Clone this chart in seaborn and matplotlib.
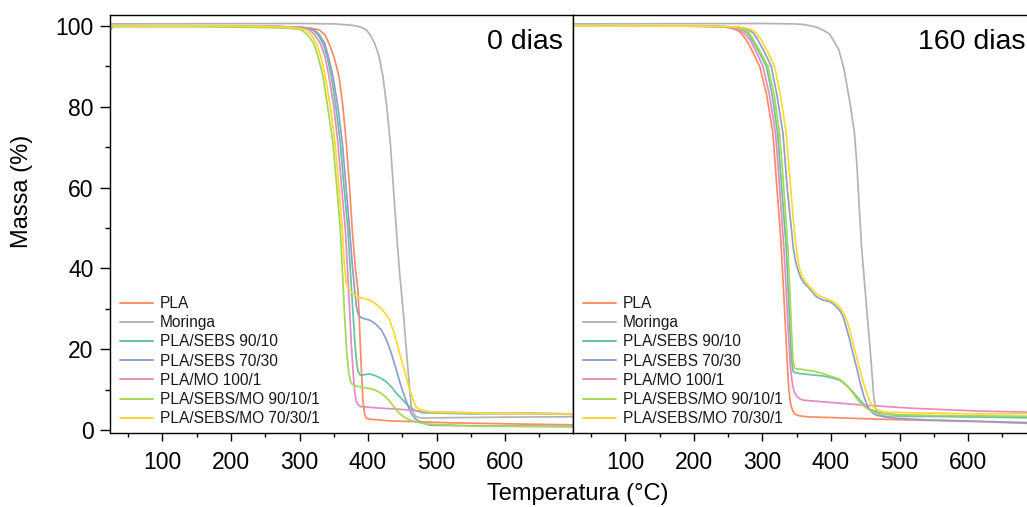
import matplotlib
matplotlib.use("Agg")
import matplotlib.pyplot as plt
from matplotlib.ticker import MultipleLocator
import pandas as pd
import seaborn as sns

# Sample names and colours (Set2)
amostras = ["PLA", "Moringa", "PLA/SEBS 90/10", "PLA/SEBS 70/30",
            "PLA/MO 100/1", "PLA/SEBS/MO 90/10/1", "PLA/SEBS/MO 70/30/1"]
cores = ["#fc8d62", "#b3b3b3", "#66c2a5", "#8da0cb",
         "#e78ac3", "#a6d854", "#ffd92f"]

xticks = [100, 200, 300, 400, 500, 600]
yticks = [0, 20, 40, 60, 80, 100]
paineis = ["0 dias", "160 dias"]

# ---- TGA curves, 0 dias: temperature (°C) and residual mass (%) ----
pla_0_t = [25, 150, 250, 300, 318, 329, 337, 343, 350, 357.6, 363, 368.3, 373, 377, 381.5, 385.3,
           388.5, 390.5, 392.5, 395, 398, 402, 430, 520, 620, 700]
pla_0_m = [100, 100, 99.9, 99.7, 99.4, 99.0, 97.8, 95.7, 92.5, 87.5, 80.5, 71.0, 60.0, 49.5, 40, 34.7,
           22, 14, 7.5, 3.8, 2.9, 2.7, 2.3, 1.8, 1.5, 1.3]

mor_0_t = [25, 300, 350, 375, 385, 391, 397.5, 403, 409.6, 416, 421.7, 427, 432.5, 437, 441.3, 446,
           452, 458, 463, 467, 470, 475, 480, 600, 700]
mor_0_m = [100.5, 100.6, 100.5, 100.2, 99.9, 99.6, 99.0, 97.8, 95.7, 92.5, 87.5, 80.5, 71.0, 60, 49.5, 39,
           28, 15.5, 5.8, 4.0, 3.3, 3.1, 3.0, 3.2, 3.3]

s9010_0_t = [25, 28, 150, 250, 300, 312, 319.7, 327, 334.3, 340, 346.5, 353, 359.6, 365, 370.7, 374,
             378, 381, 383.5, 385.3, 388, 392, 397, 402.3, 410, 419.3, 427, 434, 442, 451, 457, 463,
             470, 480, 550, 640, 700]
s9010_0_m = [99.2, 100, 100, 99.9, 99.7, 99.3, 99.0, 97.8, 95.7, 92.5, 87.5, 80, 71.0, 60, 49.5, 40,
             29, 21, 16.5, 14.6, 13.7, 13.6, 13.8, 13.9, 13.5, 12.8, 11.9, 10.7, 9.0, 7.4, 6.3, 5.4,
             4.8, 4.3, 4.0, 4.2, 4.0]

s7030_0_t = [25, 150, 250, 302, 314, 322.2, 329, 336.7, 342, 348.8, 356, 362.5, 368, 373.2, 377, 380.5,
             383, 385, 387.5, 390, 396, 402.3, 410, 419.3, 427, 434, 441, 448.5, 456, 463, 469, 475,
             490, 600, 700]
s7030_0_m = [100, 100, 99.9, 99.7, 99.3, 99.0, 97.8, 95.7, 92.5, 87.5, 80, 71.0, 60, 49.5, 41, 34.5,
             30.5, 29.0, 28.2, 27.8, 27.5, 27.2, 26.4, 24.8, 22.3, 19.0, 15.0, 10.7, 7.0, 4.1, 2.8, 2.1,
             1.2, 1.0, 0.9]

mo_0_t = [25, 150, 250, 295, 307, 315, 322, 330.4, 337, 343, 350, 356.1, 361.5, 366.9, 370, 373, 376,
          379, 381, 383, 386, 390, 420, 451, 490, 600, 700]
mo_0_m = [100, 100, 99.9, 99.7, 99.3, 99.0, 97.8, 95.7, 92.5, 87.5, 80, 71.0, 60, 49.5, 40, 30, 20,
          12.5, 9.0, 7.0, 6.2, 5.8, 5.4, 5.1, 4.5, 4.1, 3.9]

smo9010_0_t = [25, 150, 250, 285, 297, 303, 312, 320.7, 327, 334.3, 341, 348.8, 354, 359.6, 363, 366,
               369, 372, 374.5, 377, 383, 395, 402.3, 410, 419.3, 427, 434, 440, 446, 453, 460.6, 470,
               485, 550, 700]
smo9010_0_m = [99.8, 99.8, 99.6, 99.4, 99.2, 99.0, 97.8, 95.7, 92.5, 87.5, 80, 71.0, 61, 49.5, 38, 27.5,
               19, 14, 12, 11.3, 10.9, 10.5, 10.3, 9.9, 9.1, 8.0, 6.6, 5.3, 4.1, 3.2, 2.5, 2.0,
               1.5, 1.0, 0.8]

smo7030_0_t = [25, 150, 250, 290, 302, 310, 317, 324.6, 331, 337.6, 345, 351.8, 357, 362.5, 365.5, 368,
               371, 375.6, 380, 385, 393, 402, 410, 419, 425, 431.5, 439, 446, 453, 459.6, 465, 470,
               476, 482.5, 500, 600, 700]
smo7030_0_m = [100, 100, 99.9, 99.6, 99.3, 99.0, 97.8, 95.7, 92.5, 87.5, 80, 71.0, 61, 49.5, 41, 36.5,
               35.0, 34.2, 33.5, 33.0, 32.6, 32.2, 31.4, 30.1, 28.9, 27.2, 23.5, 19.0, 14.8, 10.7, 7.8, 5.8,
               5.0, 4.7, 4.4, 4.1, 4.0]

# ---- TGA curves, 160 dias ----
pla_160_t = [25, 150, 220, 245, 255, 262, 269, 276.4, 286, 295.9, 306, 315.2, 321, 326, 330, 333,
             336, 338.5, 341, 344, 347, 352, 364, 470, 616, 700]
pla_160_m = [100, 100, 99.9, 99.7, 99.4, 99.0, 98.2, 96.5, 93.5, 90, 83, 73.4, 60, 49, 37, 27,
             17, 10, 6.5, 4.8, 4.0, 3.6, 3.3, 2.7, 2.1, 1.6]

mor_160_t = [25, 300, 345, 358, 368, 378.4, 390, 397.8, 405, 411.4, 418.2, 427, 434.3, 438, 440.6,
             444.5, 452, 458, 462, 464.5, 467.5, 471, 480, 600, 700]
mor_160_m = [100.5, 100.6, 100.5, 100.4, 100.1, 99.7, 98.8, 98.0, 96.0, 94.1, 89.9, 81.7, 73.4, 65, 56.9,
             45.5, 30, 18, 9, 5.5, 4.2, 3.7, 3.4, 3.3, 3.2]

s9010_160_t = [25, 150, 230, 255, 265, 271, 278, 285, 295, 305.6, 314, 322.2, 328, 334.7, 337.5, 340,
               342.5, 344.3, 348, 354, 370, 388, 400, 412.4, 420, 429.5, 438, 446.5, 456, 466, 480,
               495, 600, 700]
s9010_160_m = [100, 100, 99.9, 99.7, 99.4, 99.0, 98.2, 96.5, 93.5, 90, 83, 73.4, 60, 45, 35, 25,
               17.5, 14.6, 14.2, 14.0, 13.7, 13.4, 13.0, 12.4, 11.4, 9.9, 8.2, 6.6, 5.2, 4.5, 4.0,
               3.7, 3.3, 3.0]

s7030_160_t = [25, 150, 235, 262, 273, 280, 287, 293.3, 303, 312.8, 321, 329.9, 336, 342, 345, 348,
               351.7, 356, 361, 366, 372, 378.4, 388, 397.8, 405, 412.4, 418, 422, 427, 432, 438, 444,
               449, 453.7, 460, 466, 480, 495, 544, 700]
s7030_160_m = [100, 100, 99.9, 99.7, 99.4, 99.0, 98.2, 96.5, 93.5, 90, 83, 73.4, 60, 50, 45, 42,
               39.6, 37.6, 36.3, 35.5, 34.3, 33.0, 32.2, 31.8, 31.0, 29.7, 28.0, 25.6, 22.5, 19.0, 15.0, 10.7,
               7.8, 5.8, 4.4, 3.7, 3.2, 2.9, 2.5, 1.8]

mo_160_t = [25, 150, 225, 250, 260, 266, 273, 282, 291, 300.7, 310, 319.1, 325, 331.2, 334.5, 338,
            341, 344, 347, 350, 354, 359, 388, 446.5, 519, 616.5, 700]
mo_160_m = [100, 100, 99.9, 99.7, 99.4, 99.0, 98.2, 96.5, 93.5, 90, 83, 73.4, 60, 45, 35, 23,
            15, 11, 9.2, 8.4, 7.8, 7.4, 7.0, 6.2, 5.4, 4.7, 4.4]

smo9010_160_t = [25, 150, 232, 258, 268, 274, 281, 287, 297, 308, 317, 325, 331, 337.1, 340, 342.5,
                 344.5, 346.8, 352, 359, 375, 388, 400, 410, 418, 425, 433, 441.5, 448, 456, 463, 470.7,
                 500, 550, 700]
smo9010_160_m = [100, 100, 99.9, 99.7, 99.4, 99.0, 98.2, 96.5, 93.5, 90, 83, 73.4, 60, 45, 34, 24,
                 17.5, 15.3, 15.1, 15.0, 14.6, 14.0, 13.3, 12.8, 11.9, 10.7, 8.9, 7.0, 5.9, 5.0, 4.4, 4.1,
                 3.8, 3.6, 3.4]

smo7030_160_t = [25, 150, 240, 267, 278, 285, 291, 298.2, 308, 317.6, 326, 334.7, 341, 345.5, 348.3, 351,
                 354, 358, 363, 368.6, 375, 381, 390, 397.8, 405, 412.4, 419, 424.6, 430, 435.8, 442, 449,
                 456, 461, 466, 475, 485, 550, 616, 700]
smo7030_160_m = [100, 100, 99.9, 99.7, 99.4, 99.0, 98.2, 96.5, 93.5, 90, 83, 73.4, 60, 51, 46.5, 43.0,
                 40.0, 38.0, 36.6, 35.5, 34.3, 33.4, 32.7, 32.2, 31.6, 30.5, 28.7, 26.4, 23.0, 19.0, 15.0, 10.7,
                 7.3, 5.9, 5.2, 4.6, 4.4, 4.2, 4.0, 4.1]

curvas_0 = [(pla_0_t, pla_0_m), (mor_0_t, mor_0_m), (s9010_0_t, s9010_0_m), (s7030_0_t, s7030_0_m),
            (mo_0_t, mo_0_m), (smo9010_0_t, smo9010_0_m), (smo7030_0_t, smo7030_0_m)]
curvas_160 = [(pla_160_t, pla_160_m), (mor_160_t, mor_160_m), (s9010_160_t, s9010_160_m),
              (s7030_160_t, s7030_160_m), (mo_160_t, mo_160_m), (smo9010_160_t, smo9010_160_m),
              (smo7030_160_t, smo7030_160_m)]


def tabela(curvas):
    partes = []
    for nome, (t, m) in zip(amostras, curvas):
        partes.append(pd.DataFrame({"T": t, "massa": m, "amostra": nome}))
    return pd.concat(partes, ignore_index=True)


sns.set_style("ticks")
plt.rcParams["font.family"] = ["Liberation Sans", "DejaVu Sans"]
plt.rcParams["text.color"] = "black"
plt.rcParams["axes.labelcolor"] = "black"
plt.rcParams["xtick.color"] = "black"
plt.rcParams["ytick.color"] = "black"
plt.rcParams["axes.linewidth"] = 1.0

fig = plt.figure(figsize=(10.27, 5.07), dpi=100)
ax1 = fig.add_axes([0.1068, 0.1469, 0.4511, 0.8235])
ax2 = fig.add_axes([0.5576, 0.1469, 0.4511, 0.8235], sharey=ax1)

paleta = dict(zip(amostras, cores))

for ax, curvas, titulo in zip([ax1, ax2], [curvas_0, curvas_160], paineis):
    df = tabela(curvas)
    sns.lineplot(data=df, x="T", y="massa", hue="amostra", hue_order=amostras,
                 palette=paleta, estimator=None, sort=False, linewidth=1.25, ax=ax)
    leg = ax.get_legend()
    handles = leg.legend_handles
    labels = [t.get_text() for t in leg.get_texts()]
    for h in handles:
        h.set_linewidth(1.4)
    ax.legend(handles, labels, loc="lower left", bbox_to_anchor=(0.022, 0.015),
              frameon=False, fontsize=11.2, handlelength=2.15, handletextpad=0.4,
              labelspacing=0.27, borderpad=0, borderaxespad=0, labelcolor="#1a1a1a")

    ax.set_xlim(23, 699)
    ax.set_ylim(-0.6, 102.7)
    ax.set_xticks(xticks)
    ax.xaxis.set_minor_locator(MultipleLocator(50))
    ax.set_xlabel("")
    ax.set_ylabel("")
    for s in ax.spines.values():
        s.set_visible(True)
        s.set_color("black")
        s.set_linewidth(1.0)
    ax.tick_params(axis="x", which="major", direction="out", length=6, width=1.0,
                   labelsize=16.5, pad=7, colors="black")
    ax.tick_params(axis="x", which="minor", direction="out", length=3, width=1.0)
    ax.text(0.978, 0.918, titulo, transform=ax.transAxes, ha="right", va="baseline",
            fontsize=20.5, color="black")

ax1.set_yticks(yticks)
ax1.yaxis.set_minor_locator(MultipleLocator(10))
ax1.tick_params(axis="y", which="major", direction="out", length=7, width=1.0,
                labelsize=16.5, pad=4.5, colors="black")
ax1.tick_params(axis="y", which="minor", direction="out", length=3.5, width=1.0)
ax2.tick_params(axis="y", which="both", left=False, labelleft=False)

fig.text(0.0219, 0.6219, "Massa (%)", rotation=90, ha="center", va="center", fontsize=17)
fig.text(0.5628, 0.0256, "Temperatura (°C)", ha="center", va="center", fontsize=17)

fig.savefig("out.png", dpi=100)
